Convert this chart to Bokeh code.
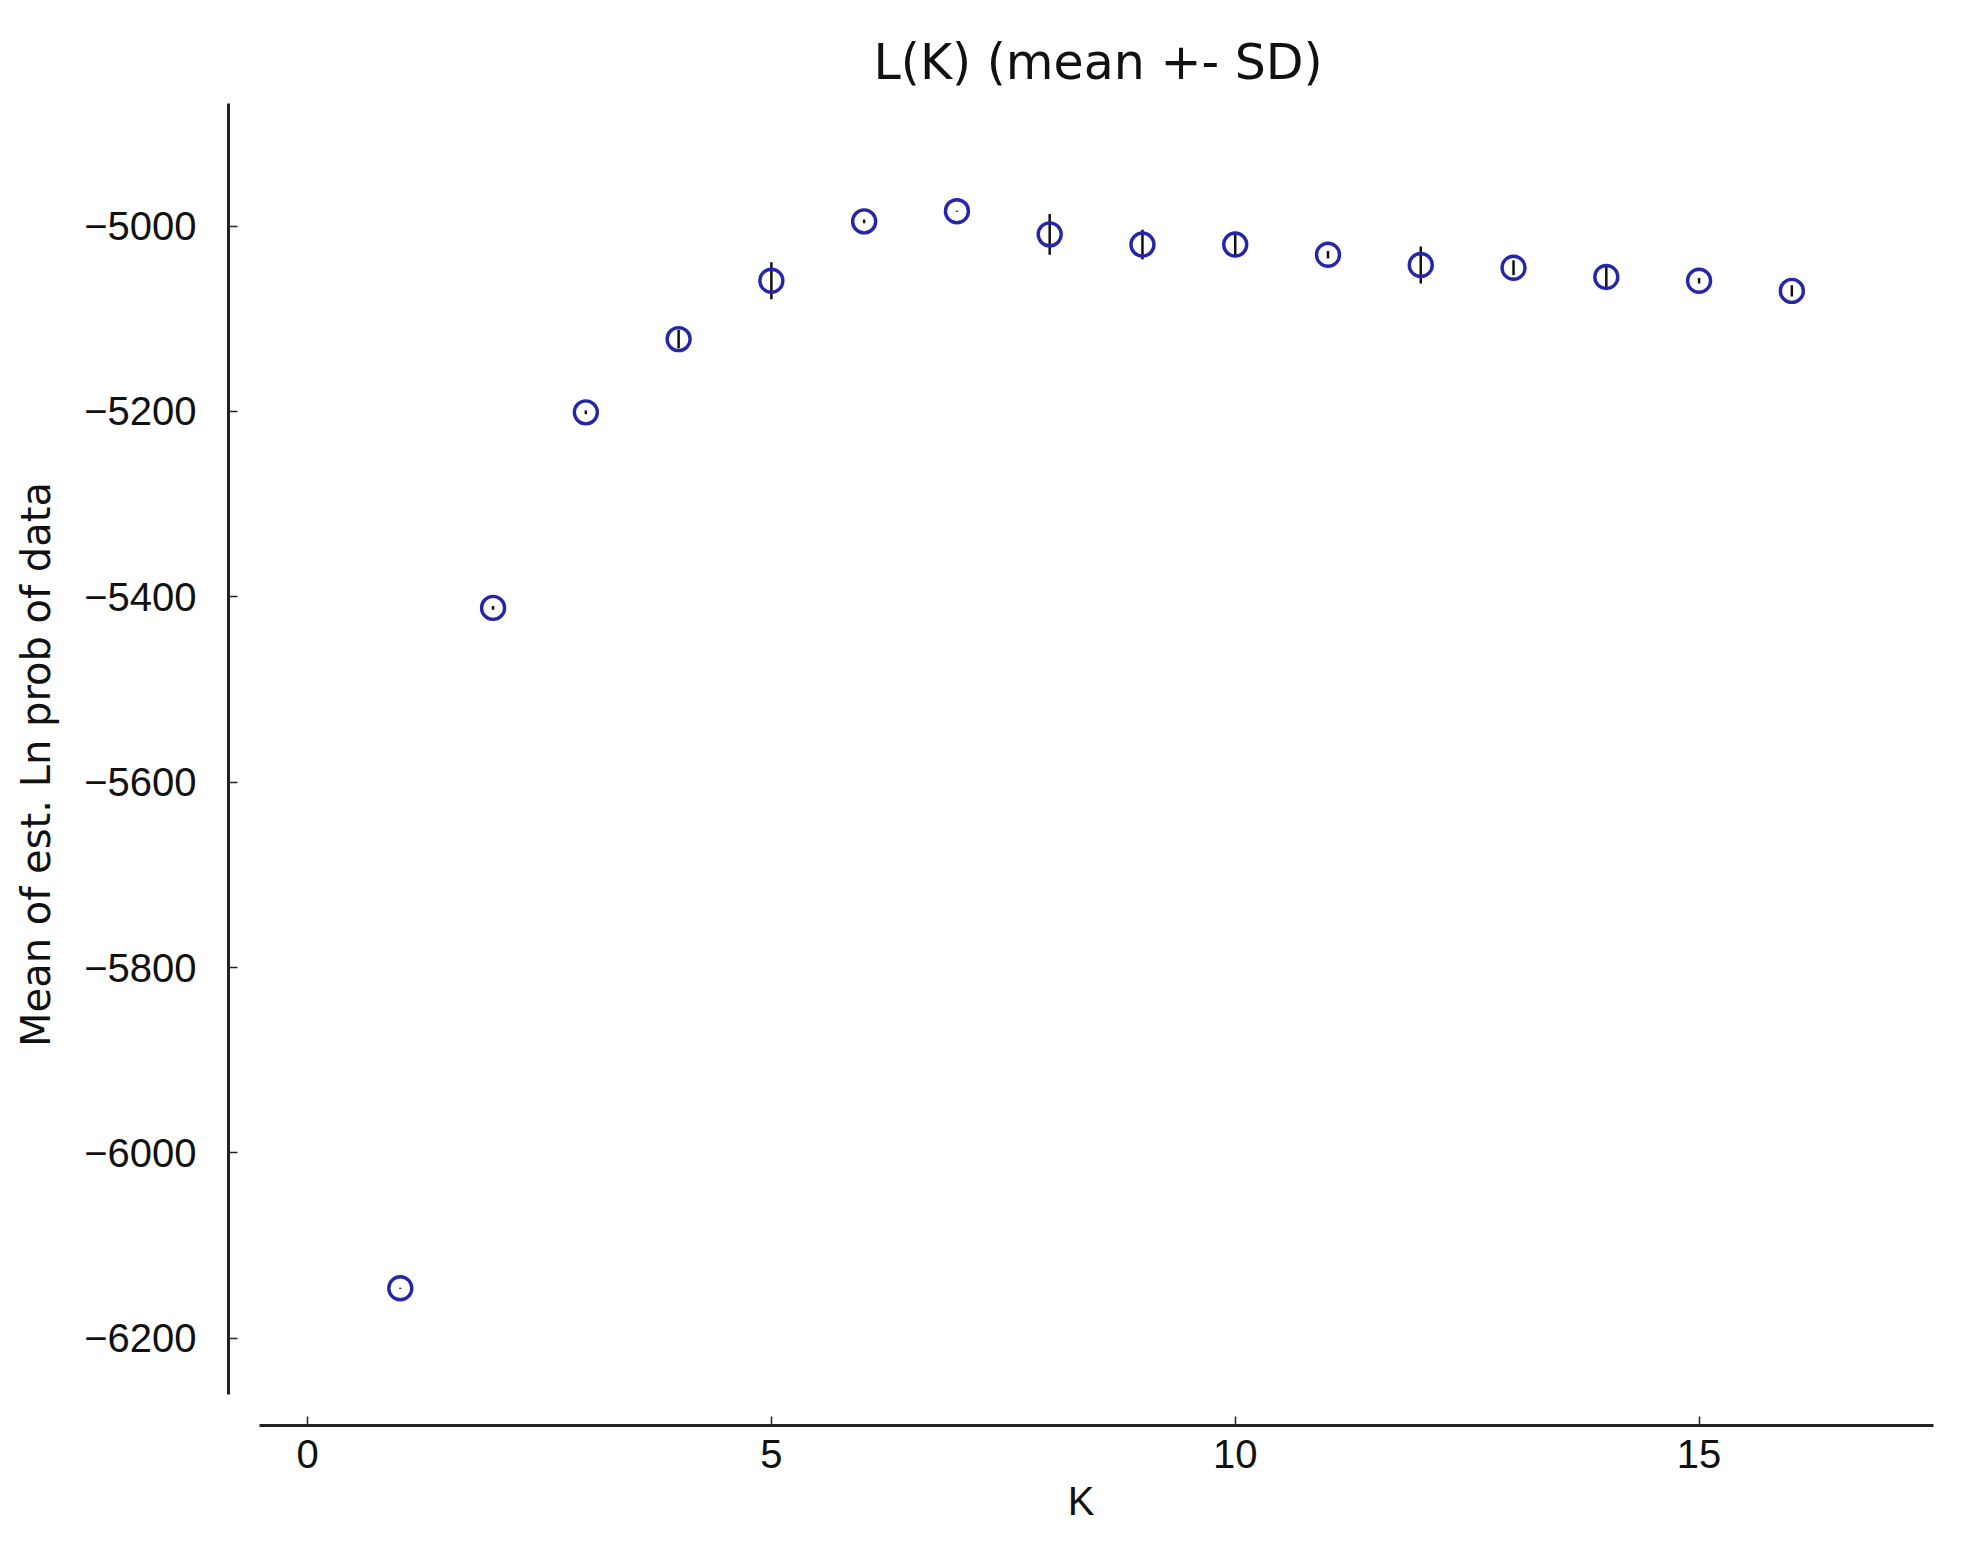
from bokeh.plotting import figure
from bokeh.models import Range1d, FixedTicker, CustomJSTickFormatter, ColumnDataSource
from bokeh.embed import file_html
from bokeh.resources import INLINE

# ---- data ----
K = [1, 2, 3, 4, 5, 6, 7, 8, 9, 10, 11, 12, 13, 14, 15, 16]
mean_lnp = [-6146, -5412, -5201, -5122, -5059, -4995, -4984, -5009,
            -5020, -5020, -5031, -5042, -5045, -5055, -5059, -5070]
sd_lnp = [0.5, 2, 2, 10, 20, 2, 0.5, 22, 16, 12, 4, 20, 8, 11, 3, 6]
x_ticks = [0, 5, 10, 15]
y_ticks = [-6200, -6000, -5800, -5600, -5400, -5200, -5000]

title_text = "L(K) (mean +- SD)"
x_label = "K"
y_label = "Mean of est. Ln prob of data"

src = ColumnDataSource(dict(
    k=K, m=mean_lnp,
    lo=[m - s for m, s in zip(mean_lnp, sd_lnp)],
    hi=[m + s for m, s in zip(mean_lnp, sd_lnp)],
))

p = figure(width=1948, height=1545, output_backend="svg", toolbar_location=None,
           x_range=Range1d(-0.852, 17.527), y_range=Range1d(-6294.1, -4867.8),
           min_border_left=228, min_border_right=15, min_border_top=103,
           min_border_bottom=120, title=title_text)

p.background_fill_color = "white"
p.border_fill_color = "white"
p.outline_line_color = None
p.xgrid.grid_line_color = None
p.ygrid.grid_line_color = None

p.title.text_font = "DejaVu Sans"
p.title.text_font_size = "49px"
p.title.text_font_style = "normal"
p.title.align = "left"
p.title.offset = 645
p.title.text_color = "#111111"
p.title.standoff = 26

p.segment(x0="k", y0="lo", x1="k", y1="hi", source=src,
          line_color="#111111", line_width=2.5)
p.scatter(x="k", y="m", source=src, marker="circle", size=23,
          fill_color=None, line_color="#2626a8", line_width=3.4)

for ax in (p.xaxis[0], p.yaxis[0]):
    ax.axis_line_width = 3
    ax.axis_line_color = "#222222"
    ax.major_tick_line_color = "#222222"
    ax.major_tick_line_width = 1.5
    ax.major_tick_in = 9
    ax.major_tick_out = 0
    ax.minor_tick_line_color = None
    ax.major_label_text_font = "Liberation Sans"
    ax.major_label_text_font_size = "40px"
    ax.major_label_text_color = "#111111"
    ax.axis_label_text_font_style = "normal"
    ax.axis_label_text_color = "#111111"

p.xaxis.axis_label_text_font = "Liberation Sans"
p.xaxis.axis_label_text_font_size = "40px"
p.yaxis.axis_label_text_font = "DejaVu Sans"
p.yaxis.axis_label_text_font_size = "40px"

p.xaxis.ticker = FixedTicker(ticks=x_ticks)
p.yaxis.ticker = FixedTicker(ticks=y_ticks)
p.yaxis.formatter = CustomJSTickFormatter(
    code="return tick < 0 ? '\\u2212' + (-tick) : '' + tick;")
p.xaxis.bounds = (-0.514, 17.53)
p.yaxis.bounds = (-6261, -4867.8)
p.xaxis.axis_label = x_label
p.yaxis.axis_label = y_label
p.xaxis.major_label_standoff = 14
p.yaxis.major_label_standoff = 32
p.xaxis.axis_label_standoff = 8
p.yaxis.axis_label_standoff = 22

open("out.html", "w").write(file_html(p, INLINE))
